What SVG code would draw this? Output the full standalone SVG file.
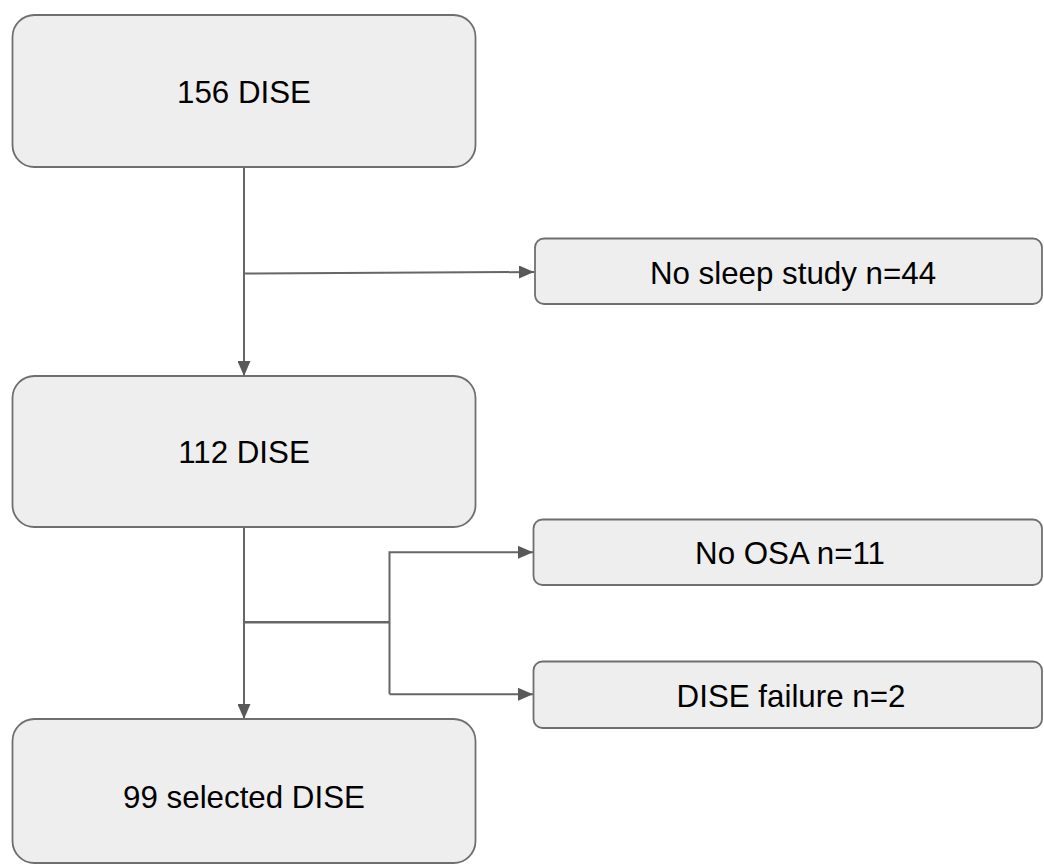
<svg xmlns="http://www.w3.org/2000/svg" width="1044" height="865" viewBox="0 0 1044 865">
<style>
.box{fill:#eeeeee;stroke:#6f6f6f;stroke-width:1.8}
.lbl{font-family:"Liberation Sans",Arial,sans-serif;font-size:31.3px;fill:#000;text-anchor:middle}
.con{fill:none;stroke:#666;stroke-width:2}
</style>
<defs>
<marker id="arr" markerUnits="userSpaceOnUse" markerWidth="16" markerHeight="13" refX="15" refY="6.5" orient="auto">
<path d="M0,0 L15,6.5 L0,13 Z" fill="#595959"/>
</marker>
</defs>
<rect width="1044" height="865" fill="#fff"/>
<g id="connectors">
<line class="con" x1="244" y1="167" x2="244" y2="376" marker-end="url(#arr)"/>
<line class="con" x1="245" y1="273.5" x2="534" y2="272" marker-end="url(#arr)"/>
<line class="con" x1="244" y1="527" x2="244" y2="719" marker-end="url(#arr)"/>
<line class="con" x1="245" y1="622.3" x2="389.5" y2="622.3" style="stroke-width:2.6"/>
<polyline class="con" points="389.5,694.3 389.5,552.3 533,552.3" marker-end="url(#arr)"/>
<line class="con" x1="389.5" y1="694.3" x2="533" y2="694.3" marker-end="url(#arr)"/>
</g>
<g id="n156">
<rect class="box" x="12.5" y="15" width="463" height="152" rx="22"/>
<text class="lbl" x="244" y="102.5">156 DISE</text>
</g>
<g id="nNoSleep">
<rect class="box" x="535" y="238.5" width="507" height="65.5" rx="9"/>
<text class="lbl" x="793" y="283.5">No sleep study n=44</text>
</g>
<g id="n112">
<rect class="box" x="12.5" y="376" width="463" height="151" rx="22"/>
<text class="lbl" x="244" y="462.5">112 DISE</text>
</g>
<g id="nNoOSA">
<rect class="box" x="533.5" y="519.5" width="508.5" height="65.5" rx="9"/>
<text class="lbl" x="790" y="563.5">No OSA n=11</text>
</g>
<g id="nFail">
<rect class="box" x="533.5" y="661.5" width="508.5" height="66.5" rx="9"/>
<text class="lbl" x="791" y="706.5">DISE failure n=2</text>
</g>
<g id="n99">
<rect class="box" x="12.5" y="719" width="463" height="144" rx="22"/>
<text class="lbl" x="244" y="807.5">99 selected DISE</text>
</g>
</svg>
